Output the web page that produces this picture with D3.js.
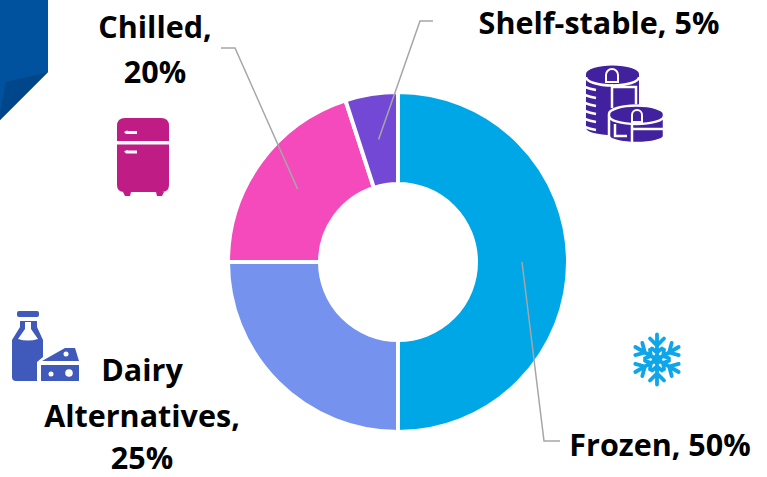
<!DOCTYPE html>
<html>
<head>
<meta charset="utf-8">
<script src="https://cdn.jsdelivr.net/npm/d3@7"></script>
<style>
  html, body { margin: 0; padding: 0; background: #fff; }
  text { font-family: "Open Sans", Lato, sans-serif; font-weight: 700; fill: #000; font-variant-ligatures: none; }
</style>
</head>
<body>
<div id="chart"></div>
<script>
const categories = ["Frozen", "Dairy Alternatives", "Chilled", "Shelf-stable"];
const shares = [50, 25, 20, 5];
const colors = ["#00a7e7", "#7593ee", "#f44abb", "#7248d4"];

const width = 767, height = 477;
const cx = 398, cy = 262;
const outerR = 170, innerR = 78;

const svg = d3.select("#chart").append("svg")
  .attr("width", width).attr("height", height)
  .style("display", "block");

// corner ribbon
svg.append("path").attr("d", "M0,0H48V72L0,120Z").attr("fill", "#00529f");
svg.append("path").attr("d", "M48,72L6,82L0,112V120Z").attr("fill", "#00468a");

const pie = d3.pie().sort(null).value(d => d);
const arc = d3.arc().innerRadius(innerR).outerRadius(outerR);
const slices = pie(shares);

const chart = svg.append("g").attr("transform", `translate(${cx},${cy})`);
chart.selectAll("path")
  .data(slices)
  .join("path")
    .attr("d", arc)
    .attr("fill", (d, i) => colors[i])
    .attr("stroke", "#fff")
    .attr("stroke-width", 4);

// leader lines start at slice centroids, elbows are in page coords
const leaders = [
  { slice: 0, pts: [[544, 441], [560, 441]] },
  { slice: 2, pts: [[235, 48], [221, 48]] },
  { slice: 3, pts: [[420, 21], [433, 21]] }
];
const line = d3.line();
leaders.forEach(l => {
  const c = arc.centroid(slices[l.slice]);
  svg.append("path")
    .attr("d", line([[c[0] + cx, c[1] + cy], ...l.pts]))
    .attr("fill", "none")
    .attr("stroke", "#a6a6a6")
    .attr("stroke-width", 1.5);
});

const labels = [
  { x: 155, lines: [["Chilled,", 38], ["20%", 83]] },
  { x: 599, lines: [["Shelf-stable, 5%", 34]] },
  { x: 142, lines: [["Dairy", 381], ["Alternatives,", 427], ["25%", 469]] },
  { x: 660, lines: [["Frozen, 50%", 456]] }
];
labels.forEach(l => l.lines.forEach(([t, y]) => {
  svg.append("text")
    .attr("x", l.x).attr("y", y)
    .attr("text-anchor", "middle")
    .attr("font-size", 30.5)
    .text(t);
}));

// fridge icon
const fridge = svg.append("g").attr("fill", "#c01c85");
fridge.append("path").attr("d", "M125,118H161Q169,118 169,126V141H117V126Q117,118 125,118Z");
fridge.append("path").attr("d", "M117,144.5H169V185Q169,192 162,192H124Q117,192 117,185Z");
fridge.append("path").attr("d", "M123,192H131L130,196H125ZM156,192H164L162,196H157Z");
fridge.append("path").attr("d", "M124,132L127,130.5L128,131H137V134H126Z").attr("fill", "#fff");
fridge.append("path").attr("d", "M124,151.5L127,150L128,150.5H137V153.5H126Z").attr("fill", "#fff");

// stacked tins icon
const tin = svg.append("g");
const tinColor = "#42219f";
const white = "#fff";
tin.append("path")
  .attr("d", "M586,74A26.5,8.5 0 0 1 639,74V128A26.5,7 0 0 1 586,128Z")
  .attr("fill", tinColor);
tin.append("path")
  .attr("d", "M586,77A26.5,8.5 0 0 0 639,77")
  .attr("fill", "none").attr("stroke", white).attr("stroke-width", 2.5);
tin.append("path")
  .attr("d", "M606,82V75A6,6 0 0 1 618,75V82Z")
  .attr("fill", tinColor).attr("stroke", white).attr("stroke-width", 2);
tin.append("path")
  .attr("d", "M612,84V108M612,87H636V104")
  .attr("fill", "none").attr("stroke", white).attr("stroke-width", 2.5);
d3.range(6).forEach(i => {
  tin.append("path")
    .attr("d", `M585,${87 + i * 8}Q590,${89 + i * 8} 596,${90 + i * 8}`)
    .attr("fill", "none")
    .attr("stroke", white).attr("stroke-width", 2.5);
});
tin.append("path")
  .attr("d", "M609,114A27.5,8.5 0 0 1 664,114V136A27.5,7 0 0 1 609,136Z")
  .attr("fill", tinColor).attr("stroke", white).attr("stroke-width", 2.5);
tin.append("path")
  .attr("d", "M609,116A27.5,8 0 0 0 664,116")
  .attr("fill", "none").attr("stroke", white).attr("stroke-width", 2.5);
tin.append("path")
  .attr("d", "M632,122V115A5,5 0 0 1 642,115V122Z")
  .attr("fill", tinColor).attr("stroke", white).attr("stroke-width", 2);
tin.append("path")
  .attr("d", "M632,125V143M632,129H664M615,124V136H627")
  .attr("fill", "none").attr("stroke", white).attr("stroke-width", 2.5);

// bottle and cheese icon
const dairy = svg.append("g").attr("fill", "#3f5abb");
dairy.append("path").attr("d", "M19,311H37Q39,311 39,313V315Q39,317 37,317H19Q17,317 17,315V313Q17,311 19,311Z");
dairy.append("path").attr("d", "M20,321H37V327L43,340V357L37,362V381H16Q12,381 12,377V340L20,327Z");
dairy.append("path").attr("d", "M25,322H31V329L38,339Q28,342 18,339L25,329Z").attr("fill", white);
dairy.append("path").attr("d", "M42,361L65,348H75L79,361Z");
dairy.append("rect").attr("x", 41).attr("y", 365).attr("width", 38).attr("height", 16);
[[66, 354, 2.5], [51, 374, 2.5], [69, 373, 3.8]].forEach(h => {
  dairy.append("circle").attr("cx", h[0]).attr("cy", h[1]).attr("r", h[2]).attr("fill", white);
});

// snowflake icon
const flake = svg.append("g")
  .attr("transform", "translate(657,359.5)")
  .attr("stroke", "#0ea5e9").attr("stroke-width", 3.8)
  .attr("stroke-linecap", "round").attr("fill", "none");
d3.range(6).forEach(i => {
  flake.append("path")
    .attr("transform", `rotate(${i * 60})`)
    .attr("d", "M0,0V-25M-7,-21L0,-14L7,-21M-5,-11L0,-7L5,-11");
});
flake.append("circle").attr("r", 5).attr("fill", "#0ea5e9").attr("stroke", "none");
</script>
</body>
</html>
